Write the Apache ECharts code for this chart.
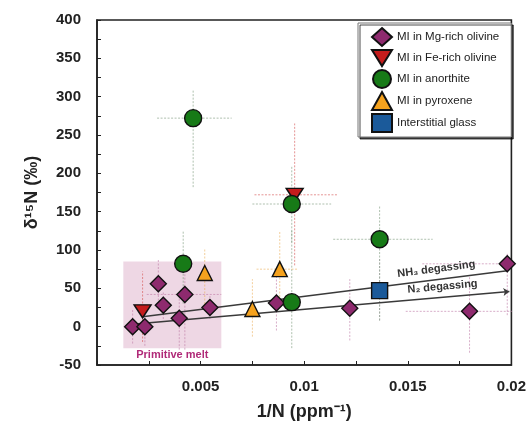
<!DOCTYPE html>
<html><head><meta charset="utf-8">
<script src="https://cdn.jsdelivr.net/npm/echarts@6/dist/echarts.min.js"></script>
<style>html,body{margin:0;padding:0;background:#fff}#c{width:529px;height:432px}</style>
</head><body><div id="c"></div>
<script>
// ---- Data ----
const mgOlivine = [[0.00172,0],[0.00231,0],[0.00296,56],[0.0032,28],[0.00424,42],[0.00397,11],[0.00545,25],[0.00866,31],[0.0122,24],[0.01798,20],[0.0198,82]];
const mgOlivineErr = [[null,null,-22,22],[null,null,-25,25],[null,null,25,88],[null,null,10,45],[0.0024,0.006,-30,70],[null,null,-30,45],[null,null,10,40],[null,null,-5,70],[null,null,-18,62],[0.0149,0.0215,-34,65],[0.0157,0.024,15,95]];
const feOlivine = [[0.0022,20],[0.00954,172]];
const feOlivineErr = [[null,null,-20,72],[0.0076,0.0116,80,265]];
const anorthite = [[0.00464,272],[0.00416,82],[0.0094,160],[0.01364,114],[0.0094,32]];
const anorthiteErr = [[0.0029,0.0065,182,309],[null,null,30,125],[0.0075,0.0113,110,210],[0.0114,0.0162,8,158],[null,null,-28,125]];
const pyroxene = [[0.0052,70],[0.0075,23],[0.00882,75]];
const pyroxeneErr = [[null,null,25,102],[null,null,-13,62],[0.0077,0.0097,25,125]];
const glass = [[0.01364,47]];
const glassErr = [[null,null,8,90]];
const primitiveMelt = [[0.00127,-28],[0.006,85]];
const nh3Line = [[0.0022,13],[0.0198,73]];
const n2Line = [[0.0017,3],[0.0199,46]];
const seriesNames = ['MI in Mg-rich olivine','MI in Fe-rich olivine','MI in anorthite','MI in pyroxene','Interstitial glass'];

function errSeries(pts, errs, color) {
  const data = pts.map((p,i)=>[p[0],p[1]].concat(errs[i].map(v=> v===null ? NaN : v)));
  return {
    type:'custom', silent:true, z:2, clip:true, encode:{x:0,y:1}, data,
    renderItem(params, api){
      const x=api.value(0), y=api.value(1), xl=api.value(2), xh=api.value(3), yl=api.value(4), yh=api.value(5);
      const style={stroke:color, lineWidth:1, lineDash:[2,1.5]};
      const ch=[];
      if(!isNaN(xl)){const a=api.coord([xl,y]), b=api.coord([xh,y]); ch.push({type:'line',shape:{x1:a[0],y1:a[1],x2:b[0],y2:b[1]},style});}
      if(!isNaN(yl)){const a=api.coord([x,yl]), b=api.coord([x,yh]); ch.push({type:'line',shape:{x1:a[0],y1:a[1],x2:b[0],y2:b[1]},style});}
      return {type:'group', children:ch};
    }
  };
}
const border = {borderColor:'#111', borderWidth:1.4, opacity:1};
const chart = echarts.init(document.getElementById('c'));
chart.setOption({
  animation:false,
  backgroundColor:'#fff',
  textStyle:{fontFamily:'Liberation Sans, Arial, sans-serif'},
  grid:{left:97, right:17, top:20, bottom:67, show:true, borderColor:'#222', borderWidth:1.6},
  xAxis:{
    type:'value', min:0, max:0.02, interval:0.0025,
    name:'1/N (ppm⁻¹)', nameLocation:'middle', nameGap:38,
    nameTextStyle:{fontSize:18, fontWeight:'bold', color:'#222'},
    axisLine:{onZero:false, lineStyle:{color:'#222', width:1.6}},
    axisTick:{inside:true, length:4, lineStyle:{color:'#222'}},
    splitLine:{show:false},
    axisLabel:{fontSize:15, fontWeight:'bold', color:'#222', margin:14,
      formatter:v=>{const k=Math.round(v/0.0025); return (k%2===0 && k>0) ? String(parseFloat(v.toFixed(4))) : '';}}
  },
  yAxis:{
    type:'value', min:-50, max:400, interval:25,
    name:'δ¹⁵N (‰)', nameLocation:'middle', nameGap:56,
    nameTextStyle:{fontSize:18, fontWeight:'bold', color:'#222'},
    axisLine:{lineStyle:{color:'#222', width:1.6}},
    axisTick:{inside:true, length:4, lineStyle:{color:'#222'}},
    splitLine:{show:false},
    axisLabel:{fontSize:15, fontWeight:'bold', color:'#222', margin:16,
      formatter:v=> (v%50===0) ? String(v) : ''}
  },
  legend:{
    data:seriesNames, orient:'vertical', left:358, top:23,
    itemWidth:20, itemHeight:18, itemGap:2,
    padding:[4,12,4,13],
    backgroundColor:'#fff', borderColor:'#777', borderWidth:1,
    shadowColor:'rgba(0,0,0,0.7)', shadowOffsetX:2, shadowOffsetY:2, shadowBlur:0,
    textStyle:{fontSize:11.5, color:'#222'}
  },
  series:[
    {type:'scatter', data:[], silent:true, z:0,
      markArea:{silent:true, itemStyle:{color:'rgba(215,160,190,0.42)'},
        label:{show:true, position:'bottom', distance:1, color:'#b02a78', fontWeight:'bold', fontSize:11},
        data:[[{name:'Primitive melt', coord:primitiveMelt[0]},{coord:primitiveMelt[1]}]]}},
    errSeries(mgOlivine, mgOlivineErr, 'rgba(190,120,165,0.6)'),
    errSeries(feOlivine, feOlivineErr, 'rgba(215,90,90,0.65)'),
    errSeries(anorthite, anorthiteErr, 'rgba(120,150,120,0.6)'),
    errSeries(pyroxene, pyroxeneErr, 'rgba(235,175,90,0.6)'),
    errSeries(glass, glassErr, 'rgba(150,150,150,0.6)'),
    {type:'scatter', data:[], silent:true, z:3,
      markLine:{silent:true, symbol:['none','none'], animation:false,
        lineStyle:{color:'#3a3a3a', width:1.5, type:'solid'},
        label:{show:true, position:'insideEndTop', formatter:'{b}', fontSize:11, fontWeight:'bold', color:'#333', padding:[0,26,0,0]},
        data:[
          [{name:'NH₃ degassing', coord:nh3Line[0]},{coord:nh3Line[1]}],
          [{name:'N₂ degassing', coord:n2Line[0], symbol:'none'},{coord:n2Line[1], symbol:'arrow', symbolSize:6}]
        ]}},
    {name:seriesNames[0], type:'scatter', z:5, symbol:'diamond', symbolSize:16, data:mgOlivine, itemStyle:Object.assign({color:'#8e2a6e'},border)},
    {name:seriesNames[1], type:'scatter', z:5, symbol:'path://M0,0L20,0L10,16Z', symbolSize:[17,13], data:feOlivine, itemStyle:Object.assign({color:'#c41c1c'},border)},
    {name:seriesNames[2], type:'scatter', z:5, symbol:'circle', symbolSize:17, data:anorthite, itemStyle:Object.assign({color:'#177a17'},border)},
    {name:seriesNames[3], type:'scatter', z:5, symbol:'triangle', symbolSize:15, data:pyroxene, itemStyle:Object.assign({color:'#f5a21e'},border)},
    {name:seriesNames[4], type:'scatter', z:5, symbol:'rect', symbolSize:16, data:glass, itemStyle:Object.assign({color:'#1b5a9a'},border)}
  ]
});
</script></body></html>
